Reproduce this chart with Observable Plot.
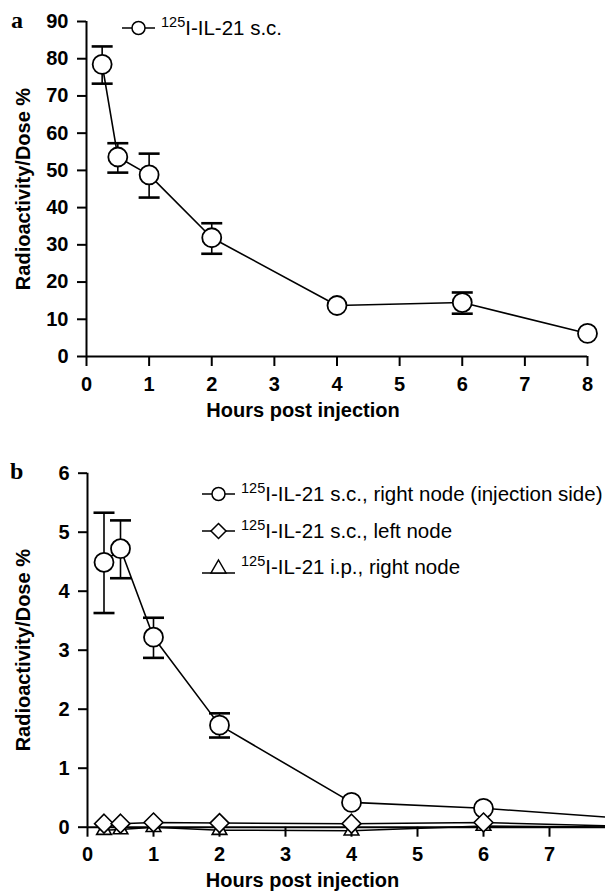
<!DOCTYPE html>
<html><head><meta charset="utf-8">
<script src="https://cdn.jsdelivr.net/npm/d3@7"></script>
<script src="https://cdn.jsdelivr.net/npm/@observablehq/plot@0.6"></script>
<style>
html,body{margin:0;padding:0;background:#fff;overflow:hidden;}
#wrap{position:relative;width:605px;height:893px;overflow:hidden;background:#fff;}
#wrap > svg{position:absolute;left:0;max-width:none !important;}
.panel{position:absolute;font-family:"Liberation Serif","Times New Roman",serif;font-weight:bold;font-size:24px;line-height:1;color:#000;}
.leg{position:absolute;display:flex;align-items:center;font-family:"Liberation Sans",Arial,sans-serif;font-size:20.5px;color:#000;white-space:nowrap;line-height:1;}
.leg svg{display:block;}
.leg .t{margin-left:6px;}
.leg sup{font-size:14.5px;vertical-align:0;position:relative;top:-8px;}
</style></head><body><div id="wrap"></div>
<script>
// ---------- Panel a data ----------
const hoursA = [0.25, 0.5, 1, 2, 4, 6, 8];
const meanA  = [78.5, 53.6, 48.8, 31.9, 13.7, 14.5, 6.2];
const loA    = [73.3, 49.4, 42.7, 27.6, null, 11.5, null];
const hiA    = [83.3, 57.3, 54.5, 35.8, null, 17.2, null];
const yTicksA = [0, 10, 20, 30, 40, 50, 60, 70, 80, 90];
const xTicksA = [0, 1, 2, 3, 4, 5, 6, 7, 8];
const legendA = ["I-IL-21 s.c."];

// ---------- Panel b data ----------
const hoursB     = [0.25, 0.5, 1, 2, 4, 6, 8];
const rightScB   = [4.49, 4.72, 3.22, 1.73, 0.42, 0.32, 0.16];
const rightScLoB = [3.63, 4.22, 2.87, 1.52, null, null, null];
const rightScHiB = [5.33, 5.20, 3.55, 1.93, null, null, null];
const leftScB    = [0.06, 0.06, 0.08, 0.07, 0.06, 0.08, 0.02];
const rightIpB   = [-0.05, -0.04, 0.0, -0.05, -0.06, 0.02, 0.0];
const yTicksB = [0, 1, 2, 3, 4, 5, 6];
const xTicksB = [0, 1, 2, 3, 4, 5, 6, 7];
const legendB = ["I-IL-21 s.c., right node (injection side)", "I-IL-21 s.c., left node", "I-IL-21 i.p., right node"];
const isotope = "125";

const xTitle = "Hours post injection";
const yTitle = "Radioactivity/Dose %";

// ---------- helpers ----------
const capSymbol = {draw(ctx) { ctx.moveTo(-10.5, 0); ctx.lineTo(10.5, 0); }};
const toRows = (xs, ys) => xs.map((x, i) => ({x, y: ys[i]}));
const toErr = (xs, lo, hi) => xs.map((x, i) => ({x, lo: lo[i], hi: hi[i]})).filter(d => d.lo != null);

const baseStyle = {fontFamily: "'Liberation Sans', Arial, sans-serif", fontSize: "20px", fontWeight: "bold", color: "black", background: "white", overflow: "visible", maxWidth: "none"};

function errorMarks(err) {
  return [
    Plot.ruleX(err, {x: "x", y1: "lo", y2: "hi", stroke: "black", strokeWidth: 1.6}),
    Plot.dot(err, {x: "x", y: "hi", symbol: capSymbol, r: 5, fill: "none", stroke: "black", strokeWidth: 2.6}),
    Plot.dot(err, {x: "x", y: "lo", symbol: capSymbol, r: 5, fill: "none", stroke: "black", strokeWidth: 2.6})
  ];
}

// ---------- Panel a ----------
const rowsA = toRows(hoursA, meanA);
const errA = toErr(hoursA, loA, hiA);
const chartA = Plot.plot({
  width: 605, height: 440,
  marginLeft: 86, marginRight: 18, marginTop: 21, marginBottom: 84,
  x: {domain: [0, 8]},
  y: {domain: [0, 90]},
  style: baseStyle,
  marks: [
    Plot.ruleX([0], {stroke: "black", strokeWidth: 2}),
    Plot.ruleY([0], {stroke: "black", strokeWidth: 2}),
    Plot.axisY({ticks: yTicksA, tickSize: 9, tickPadding: 9, label: null, strokeWidth: 2, tickFormat: d => String(d)}),
    Plot.axisX({ticks: xTicksA, tickSize: 10, tickPadding: 10, label: null, strokeWidth: 2, tickFormat: d => String(d)}),
    Plot.text([xTitle], {frameAnchor: "bottom", dx: -34, dy: 54, lineAnchor: "middle", textAnchor: "middle"}),
    Plot.text([yTitle], {frameAnchor: "left", dx: -63, rotate: -90, lineAnchor: "middle", textAnchor: "middle"}),
    Plot.line(rowsA, {x: "x", y: "y", stroke: "black", strokeWidth: 1.6}),
    ...errorMarks(errA),
    Plot.dot(rowsA, {x: "x", y: "y", r: 9.5, fill: "white", stroke: "black", strokeWidth: 1.8})
  ]
});
chartA.style.top = "0px";

// ---------- Panel b ----------
const rowsRsc = toRows(hoursB, rightScB);
const errB = toErr(hoursB, rightScLoB, rightScHiB);
const rowsLsc = toRows(hoursB, leftScB);
const rowsRip = toRows(hoursB, rightIpB);
const chartB = Plot.plot({
  width: 630, height: 453,
  marginLeft: 87, marginRight: 15, marginTop: 32.7, marginBottom: 66.3,
  x: {domain: [0, 8]},
  y: {domain: [0, 6]},
  style: baseStyle,
  marks: [
    Plot.ruleX([0], {stroke: "black", strokeWidth: 2}),
    Plot.axisY({ticks: yTicksB, tickSize: 9, tickPadding: 9, label: null, strokeWidth: 2, tickFormat: d => String(d)}),
    Plot.text([xTitle], {frameAnchor: "bottom", dx: -49, dy: 53, lineAnchor: "middle", textAnchor: "middle"}),
    Plot.text([yTitle], {frameAnchor: "left", dx: -64, rotate: -90, lineAnchor: "middle", textAnchor: "middle"}),
    Plot.line(rowsRsc, {x: "x", y: "y", stroke: "black", strokeWidth: 1.6}),
    ...errorMarks(errB),
    Plot.dot(rowsRsc, {x: "x", y: "y", r: 9.5, fill: "white", stroke: "black", strokeWidth: 1.8}),
    Plot.line(rowsRip, {x: "x", y: "y", stroke: "black", strokeWidth: 1.5}),
    Plot.dot(rowsRip, {x: "x", y: "y", symbol: "triangle2", r: 7, fill: "white", stroke: "black", strokeWidth: 1.6}),
    Plot.ruleY([0], {stroke: "black", strokeWidth: 2}),
    Plot.axisX({ticks: xTicksB, tickSize: 10, tickPadding: 10, label: null, strokeWidth: 2, tickFormat: d => String(d)}),
    Plot.line(rowsLsc, {x: "x", y: "y", stroke: "black", strokeWidth: 1.5}),
    Plot.dot(rowsLsc, {x: "x", y: "y", symbol: "diamond2", r: 8.5, fill: "white", stroke: "black", strokeWidth: 1.6})
  ]
});
chartB.style.top = "440px";
chartB.style.maxWidth = "none";
chartA.style.maxWidth = "none";

const wrap = document.getElementById("wrap");
wrap.appendChild(chartA);
wrap.appendChild(chartB);

// ---------- panel letters ----------
function letter(txt, left, top) {
  const d = document.createElement("div");
  d.className = "panel"; d.textContent = txt;
  d.style.left = left + "px"; d.style.top = top + "px";
  wrap.appendChild(d);
}
letter("a", 11, 8);
letter("b", 10, 459);

// ---------- legends ----------
function symbolSvg(kind) {
  let shape = "";
  if (kind === "circle") shape = '<circle cx="16.5" cy="12" r="6.5" fill="white" stroke="black" stroke-width="1.5"/>';
  if (kind === "diamond") shape = '<path d="M16.5,4.5L24,12L16.5,19.5L9,12Z" fill="white" stroke="black" stroke-width="1.5"/>';
  if (kind === "triangle") shape = '<path d="M16.5,5L24,18L9,18Z" fill="white" stroke="black" stroke-width="1.5"/>';
  const ly = kind === "triangle" ? 18 : 12;
  return `<svg width="33" height="24"><line x1="0" x2="33" y1="${ly}" y2="${ly}" stroke="black" stroke-width="1.5"/>${shape}</svg>`;
}
function legendRow(label, kind, left, cy) {
  const d = document.createElement("div");
  d.className = "leg";
  d.style.left = left + "px"; d.style.top = (cy - 12) + "px";
  d.innerHTML = symbolSvg(kind) + `<span class="t"><sup>${isotope}</sup>${label}</span>`;
  wrap.appendChild(d);
}
legendRow(legendA[0], "circle", 122, 28);
const kindsB = ["circle", "diamond", "triangle"];
const rowYB = [494, 531, 567];
legendB.forEach((l, i) => legendRow(l, kindsB[i], 202, rowYB[i]));
</script></body></html>
